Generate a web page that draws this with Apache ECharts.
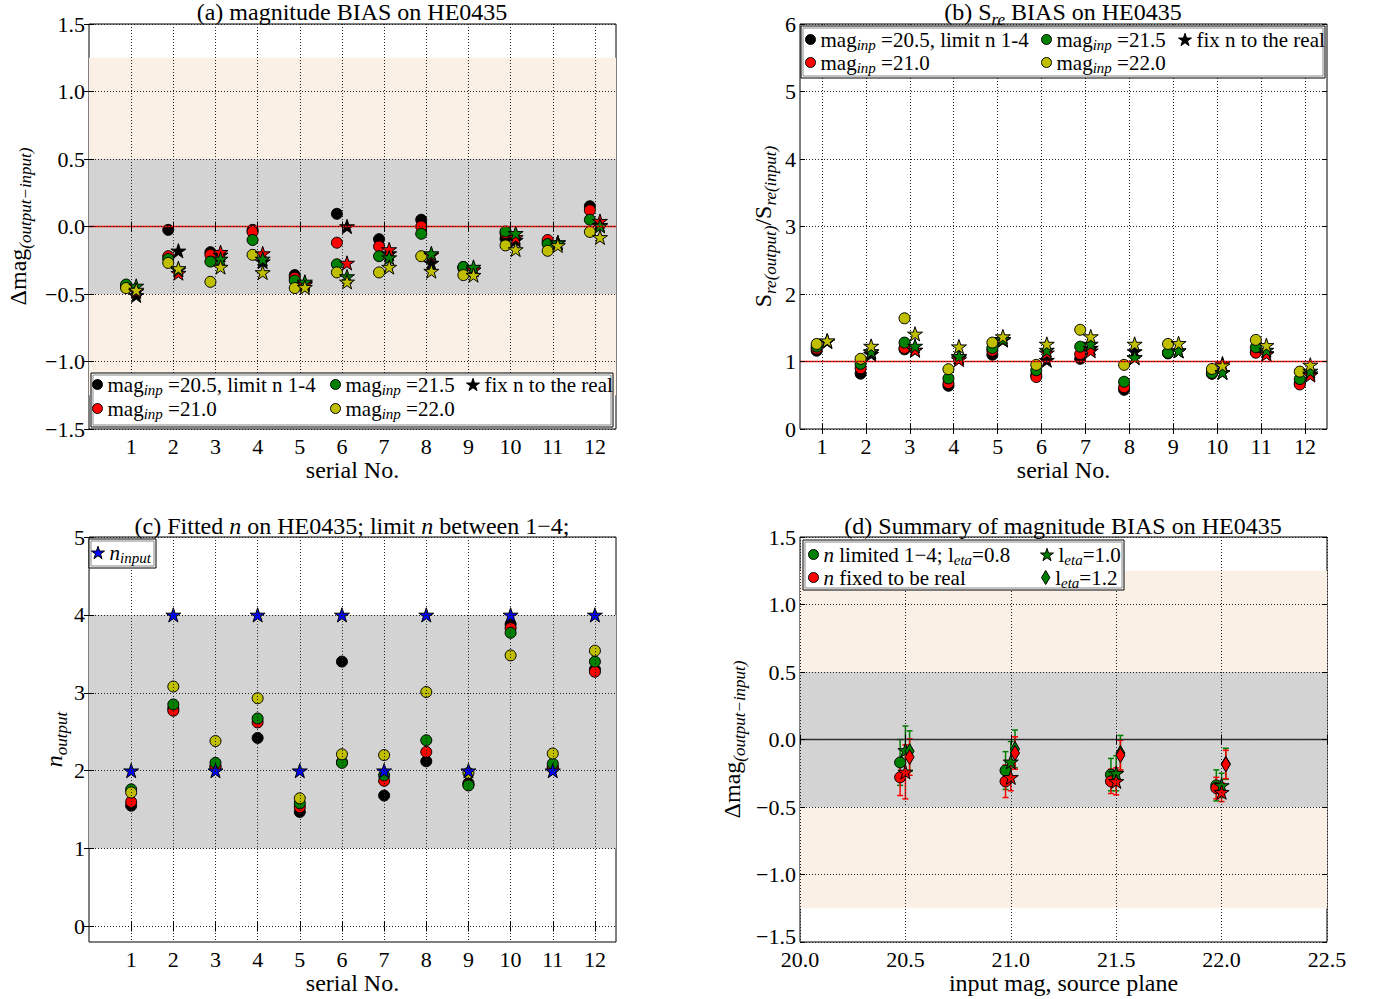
<!DOCTYPE html>
<html><head><meta charset="utf-8">
<script src="https://cdn.jsdelivr.net/npm/echarts@6/dist/echarts.min.js"></script>
<style>html,body{margin:0;padding:0;background:#fff}#c{width:1377px;height:999px}</style>
</head><body><div id="c"></div>
<script>
// ---------------- data ----------------
const serialNo = [1,2,3,4,5,6,7,8,9,10,11,12];
const xTicksA = [1,2,3,4,5,6,7,8,9,10,11,12];
const yTicksC = [0,1,2,3,4,5];

// (a) magnitude bias: circles = n limited 1-4, stars = n fixed to the real value
const aCirc205 = [-0.44,-0.025,-0.19,-0.025,-0.36,0.094,-0.094,0.05,-0.30,-0.09,-0.12,0.15];
const aCirc210 = [-0.45,-0.22,-0.21,-0.04,-0.38,-0.12,-0.148,0.0,-0.31,-0.05,-0.10,0.12];
const aCirc215 = [-0.43,-0.24,-0.26,-0.10,-0.40,-0.28,-0.22,-0.054,-0.30,-0.037,-0.13,0.05];
const aCirc220 = [-0.456,-0.27,-0.41,-0.21,-0.456,-0.34,-0.34,-0.22,-0.36,-0.14,-0.18,-0.04];
const aStar205 = [-0.51,-0.18,-0.21,-0.26,-0.42,0.0,-0.20,-0.27,-0.32,-0.10,-0.12,0.01];
const aStar210 = [-0.48,-0.345,-0.19,-0.20,-0.43,-0.27,-0.17,-0.21,-0.32,-0.08,-0.12,0.04];
const aStar215 = [-0.44,-0.32,-0.24,-0.24,-0.41,-0.37,-0.23,-0.20,-0.30,-0.05,-0.12,0.005];
const aStar220 = [-0.47,-0.31,-0.30,-0.34,-0.45,-0.41,-0.30,-0.33,-0.36,-0.17,-0.14,-0.08];

// (b) S_re ratio
const bCirc205 = [1.16,0.82,1.18,0.64,1.10,0.80,1.04,0.58,1.12,0.82,1.14,0.68];
const bCirc210 = [1.19,0.90,1.20,0.68,1.16,0.77,1.11,0.62,1.13,0.82,1.13,0.66];
const bCirc215 = [1.22,0.965,1.28,0.75,1.20,0.87,1.22,0.70,1.13,0.83,1.21,0.74];
const bCirc220 = [1.26,1.04,1.64,0.886,1.28,0.95,1.47,0.95,1.26,0.89,1.32,0.85];
const bStar205 = [1.30,1.11,1.17,1.06,1.32,1.02,1.20,1.15,1.16,0.84,1.12,0.82];
const bStar210 = [1.30,1.14,1.17,1.03,1.32,1.13,1.16,1.06,1.16,0.97,1.11,0.80];
const bStar215 = [1.30,1.15,1.23,1.08,1.33,1.17,1.26,1.06,1.16,0.84,1.17,0.86];
const bStar220 = [1.31,1.23,1.41,1.22,1.37,1.26,1.37,1.26,1.27,0.94,1.24,0.95];

// (c) fitted n
const cN205 = [1.55,2.80,2.05,2.42,1.47,3.40,1.68,2.12,1.84,3.88,2.05,3.30];
const cN210 = [1.60,2.77,2.05,2.62,1.53,2.11,1.87,2.24,1.82,3.83,2.03,3.27];
const cN215 = [1.76,2.85,2.10,2.67,1.58,2.10,1.94,2.39,1.81,3.77,2.09,3.40];
const cN220 = [1.72,3.08,2.38,2.93,1.645,2.21,2.20,3.01,1.97,3.48,2.22,3.54];
const cNinput = [2,4,2,4,2,4,2,4,2,4,2,4];

// (d) summary
const dMag = [20.5, 21.0, 21.5, 22.0];
const dLim08 = [-0.17,-0.23,-0.26,-0.34],  dLim08Err = [0.17,0.14,0.12,0.115];
const dFix08 = [-0.28,-0.31,-0.31,-0.36],  dFix08Err = [0.135,0.12,0.09,0.08];
const dLim10 = [-0.08,-0.165,-0.25,-0.34], dLim10Err = [0.18,0.15,0.13,0.09];
const dFix10 = [-0.24,-0.28,-0.31,-0.39],  dFix10Err = [0.20,0.10,0.10,0.07];
const dLim12 = [-0.086,-0.07,-0.10,-0.18], dLim12Err = [0.15,0.14,0.13,0.115];
const dFix12 = [-0.13,-0.10,-0.116,-0.185],dFix12Err = [0.135,0.12,0.11,0.105];

// ---------------- styles ----------------
const FONT = 'Liberation Serif';
const BLACK='#000000', RED='#FF0000', GREEN='#008000', YELLOW='#BFBF00', BLUE='#0000FF';
const LINEN='#FAF0E6', LGRAY='#D3D3D3';
const STAR = 'path://M100,0L122.45,69.1L195.1,69.1L136.3,111.8L158.8,180.9L100,138.2L41.2,180.9L63.7,111.8L4.9,69.1L77.55,69.1Z';
const DIAMOND = 'path://M60,0L120,100L60,200L0,100Z';
const minus = s => String(s).replace('-', '\u2212');

const rich = {
  r: {fontFamily: FONT, fontSize: 24, color: '#000', lineHeight: 26, verticalAlign: 'top'},
  i: {fontFamily: FONT, fontSize: 24, fontStyle: 'italic', color: '#000', lineHeight: 26, verticalAlign: 'top'},
  s: {fontFamily: FONT, fontSize: 17, fontStyle: 'italic', color: '#000', lineHeight: 18, verticalAlign: 'top', padding: [11,0,0,0]}
};
const richL = {
  r: {fontFamily: FONT, fontSize: 21, color: '#000', lineHeight: 21, verticalAlign: 'top'},
  i: {fontFamily: FONT, fontSize: 21, fontStyle: 'italic', color: '#000', lineHeight: 21, verticalAlign: 'top'},
  s: {fontFamily: FONT, fontSize: 15, fontStyle: 'italic', color: '#000', lineHeight: 14, verticalAlign: 'top', padding: [8,0,0,0]}
};

const grids = [
  {left: 89,  top: 24,  width: 527, height: 405},
  {left: 800, top: 24,  width: 527, height: 405},
  {left: 89,  top: 537, width: 527, height: 405},
  {left: 800, top: 537, width: 527, height: 405}
].map(g => Object.assign({show: true, borderColor: '#000', borderWidth: 1, backgroundColor: 'transparent', containLabel: false}, g));

const labelStyle = {fontFamily: FONT, fontSize: 22, color: '#000'};
const splitStyle = {show: true, lineStyle: {color: '#222', width: 1, type: [1, 2]}};
const fmtMag = v => minus(v.toFixed(1));
// panel (d): lowest y label nudged up so it does not sit on top of "20.0"
const fmtMagD = v => v === -1.5 ? '{lo|' + minus(v.toFixed(1)) + '}' : minus(v.toFixed(1));

const xcfg = [
  {min: 0, max: 12.5, custom: xTicksA, fmt: v => String(v), name: '{r|serial No.}'},
  {min: 0.5, max: 12.5, custom: xTicksA, fmt: v => String(v), name: '{r|serial No.}'},
  {min: 0, max: 12.5, custom: xTicksA, fmt: v => String(v), name: '{r|serial No.}'},
  {min: 20, max: 22.5, interval: 0.5, fmt: v => v.toFixed(1), name: '{r|input mag, source plane}'}
];
const ycfg = [
  {min: -1.5, max: 1.5, interval: 0.5, fmt: fmtMag, name: '{r|\u0394mag}{s|(output\u2212input)}', gap: 57},
  {min: 0, max: 6, interval: 1, fmt: v => String(v), name: '{r|S}{s|re(output)}{r|/S}{s|re(input)}', gap: 23},
  {min: -0.2, max: 5, custom: yTicksC, fmt: v => String(v), name: '{i|n}{s|output}', gap: 18},
  {min: -1.5, max: 1.5, interval: 0.5, fmt: fmtMagD, name: '{r|\u0394mag}{s|(output\u2212input)}', gap: 54}
];

function makeAxis(kind, cfg, gi, mirror) {
  const ax = {
    type: 'value', gridIndex: gi, min: cfg.min, max: cfg.max,
    position: kind === 'x' ? (mirror ? 'top' : 'bottom') : (mirror ? 'right' : 'left'),
    axisLine: {show: false},
    axisTick: {show: true, inside: true, length: 5, lineStyle: {color: '#000', width: 1}},
    axisLabel: mirror ? {show: false} : Object.assign({show: true, margin: kind === 'x' ? 6 : 4, formatter: cfg.fmt,
      rich: {lo: {fontFamily: FONT, fontSize: 22, color: '#000', padding: [0, 0, 12, 0]}}}, labelStyle),
    splitLine: mirror ? {show: false} : splitStyle,
    z: 10
  };
  if (cfg.interval) ax.interval = cfg.interval;
  if (cfg.custom) {
    ax.axisTick.customValues = cfg.custom;
    if (!mirror) ax.axisLabel.customValues = cfg.custom;
  }
  if (!mirror) {
    ax.name = cfg.name;
    ax.nameLocation = 'middle';
    ax.nameTextStyle = {rich: rich};
    if (kind === 'x') { ax.nameGap = 25; }
    else { ax.nameGap = cfg.gap; ax.nameRotate = 90; }
  }
  return ax;
}
const xAxis = [], yAxis = [];
for (let g = 0; g < 4; g++) { xAxis.push(makeAxis('x', xcfg[g], g, false)); yAxis.push(makeAxis('y', ycfg[g], g, false)); }
for (let g = 0; g < 4; g++) { xAxis.push(makeAxis('x', xcfg[g], g, true));  yAxis.push(makeAxis('y', ycfg[g], g, true)); }

// ---------------- series ----------------
function pts(name, gi, xs, ys, dx, color, symbol, size, z) {
  return {
    type: 'scatter', name: name, xAxisIndex: gi, yAxisIndex: gi,
    data: xs.map((x, i) => [x + dx, ys[i]]),
    symbol: symbol, symbolSize: size, symbolKeepAspect: true,
    itemStyle: {color: color, borderColor: '#000', borderWidth: 1, opacity: 1},
    emphasis: {disabled: true}, silent: true, z: z || 4
  };
}
function bands(gi, areas, lineVal, lineColor) {
  const s = {
    type: 'scatter', name: 'bands' + gi, xAxisIndex: gi, yAxisIndex: gi, data: [], z: 1, silent: true,
    markArea: {silent: true, data: areas.map(a => [{yAxis: a[0], itemStyle: {color: a[2], opacity: 1}}, {yAxis: a[1]}])}
  };
  if (lineVal !== null) {
    s.markLine = {silent: true, symbol: 'none', label: {show: false},
      lineStyle: {color: lineColor, width: 1.3, type: 'solid', opacity: 1}, data: [{yAxis: lineVal}]};
  }
  return s;
}
function errBars(gi, xs, ys, es, dx, color) {
  return {
    type: 'custom', xAxisIndex: gi, yAxisIndex: gi, silent: true, z: 3,
    data: xs.map((x, i) => [x + dx, ys[i], es[i]]),
    encode: {x: 0, y: 1},
    renderItem: function (params, api) {
      const x = api.value(0), y = api.value(1), e = api.value(2);
      const p1 = api.coord([x, y + e]), p2 = api.coord([x, y - e]);
      const cw = 3, st = {stroke: color, lineWidth: 1.5};
      return {type: 'group', children: [
        {type: 'line', shape: {x1: p1[0], y1: p1[1], x2: p2[0], y2: p2[1]}, style: st},
        {type: 'line', shape: {x1: p1[0] - cw, y1: p1[1], x2: p1[0] + cw, y2: p1[1]}, style: st},
        {type: 'line', shape: {x1: p2[0] - cw, y1: p2[1], x2: p2[0] + cw, y2: p2[1]}, style: st}
      ]};
    }
  };
}

const CS = 11, SS = 15;
const series = [
  bands(0, [[-1.25, 1.25, LINEN], [-0.5, 0.5, LGRAY]], 0, RED),
  bands(1, [], 1, RED),
  bands(2, [[1, 4, LGRAY]], null, null),
  bands(3, [[-1.25, 1.25, LINEN], [-0.5, 0.5, LGRAY]], 0, '#333'),

  pts('a205', 0, serialNo, aCirc205, -0.12, BLACK, 'circle', CS),
  pts('a210', 0, serialNo, aCirc210, -0.12, RED, 'circle', CS),
  pts('a215', 0, serialNo, aCirc215, -0.12, GREEN, 'circle', CS),
  pts('a220', 0, serialNo, aCirc220, -0.12, YELLOW, 'circle', CS),
  pts('afix', 0, serialNo, aStar205, 0.12, BLACK, STAR, SS),
  pts('as210', 0, serialNo, aStar210, 0.12, RED, STAR, SS),
  pts('as215', 0, serialNo, aStar215, 0.12, GREEN, STAR, SS),
  pts('as220', 0, serialNo, aStar220, 0.12, YELLOW, STAR, SS),

  pts('b205', 1, serialNo, bCirc205, -0.12, BLACK, 'circle', CS),
  pts('b210', 1, serialNo, bCirc210, -0.12, RED, 'circle', CS),
  pts('b215', 1, serialNo, bCirc215, -0.12, GREEN, 'circle', CS),
  pts('b220', 1, serialNo, bCirc220, -0.12, YELLOW, 'circle', CS),
  pts('bfix', 1, serialNo, bStar205, 0.12, BLACK, STAR, SS),
  pts('bs210', 1, serialNo, bStar210, 0.12, RED, STAR, SS),
  pts('bs215', 1, serialNo, bStar215, 0.12, GREEN, STAR, SS),
  pts('bs220', 1, serialNo, bStar220, 0.12, YELLOW, STAR, SS),

  pts('c205', 2, serialNo, cN205, 0, BLACK, 'circle', CS),
  pts('c210', 2, serialNo, cN210, 0, RED, 'circle', CS),
  pts('c215', 2, serialNo, cN215, 0, GREEN, 'circle', CS),
  pts('c220', 2, serialNo, cN220, 0, YELLOW, 'circle', CS),
  pts('cin', 2, serialNo, cNinput, 0, BLUE, STAR, SS, 5),

  errBars(3, dMag, dLim08, dLim08Err, -0.025, GREEN),
  errBars(3, dMag, dFix08, dFix08Err, -0.025, RED),
  errBars(3, dMag, dLim10, dLim10Err, 0, GREEN),
  errBars(3, dMag, dFix10, dFix10Err, 0, RED),
  errBars(3, dMag, dLim12, dLim12Err, 0.02, GREEN),
  errBars(3, dMag, dFix12, dFix12Err, 0.02, RED),
  pts('dlim08', 3, dMag, dLim08, -0.025, GREEN, 'circle', CS),
  pts('dfix08', 3, dMag, dFix08, -0.025, RED, 'circle', CS),
  pts('dlim10', 3, dMag, dLim10, 0, GREEN, STAR, SS),
  pts('dfix10', 3, dMag, dFix10, 0, RED, STAR, SS),
  pts('dlim12', 3, dMag, dLim12, 0.02, GREEN, DIAMOND, 15),
  pts('dfix12', 3, dMag, dFix12, 0.02, RED, DIAMOND, 15)
];

// ---------------- legends ----------------
const legendText = {
  a205: '{r|mag}{s|inp}{r| =20.5, limit n 1-4}', a210: '{r|mag}{s|inp}{r| =21.0}',
  a215: '{r|mag}{s|inp}{r| =21.5}', a220: '{r|mag}{s|inp}{r| =22.0}', afix: '{r|fix n to the real}',
  b205: '{r|mag}{s|inp}{r| =20.5, limit n 1-4}', b210: '{r|mag}{s|inp}{r| =21.0}',
  b215: '{r|mag}{s|inp}{r| =21.5}', b220: '{r|mag}{s|inp}{r| =22.0}', bfix: '{r|fix n to the real}',
  cin: '{i|n}{s|input}',
  dlim08: '{i|n}{r| limited 1\u22124; l}{s|eta}{r|=0.8}', dfix08: '{i|n}{r| fixed to be real}',
  dlim10: '{r|l}{s|eta}{r|=1.0}', dlim12: '{r|l}{s|eta}{r|=1.2}'
};
function leg(name, icon, color, left, top, w, h) {
  return {
    data: [{name: name, icon: icon, itemStyle: {color: color, borderColor: '#000', borderWidth: 1}}],
    left: left, top: top, padding: 0, itemGap: 0,
    itemWidth: w || 10, itemHeight: h || w || 10, selectedMode: false, z: 40,
    formatter: n => legendText[n], textStyle: {rich: richL}
  };
}
const legend = [
  leg('a205', 'circle', BLACK, 92, 374), leg('a215', 'circle', GREEN, 330, 374), leg('afix', STAR, BLACK, 466, 374, 13),
  leg('a210', 'circle', RED, 92, 398), leg('a220', 'circle', YELLOW, 330, 398),
  leg('b205', 'circle', BLACK, 805, 29), leg('b215', 'circle', GREEN, 1041, 29), leg('bfix', STAR, BLACK, 1178, 29, 13),
  leg('b210', 'circle', RED, 805, 52), leg('b220', 'circle', YELLOW, 1041, 52),
  leg('cin', STAR, BLUE, 91, 542, 13),
  leg('dlim08', 'circle', GREEN, 808, 544), leg('dlim10', STAR, GREEN, 1040, 544, 13),
  leg('dfix08', 'circle', RED, 808, 567), leg('dlim12', DIAMOND, GREEN, 1041, 567, 9, 14)
];

// ---------------- boxes & titles ----------------
function box(x, y, w, h) {
  return [
    {type: 'rect', shape: {x: x, y: y, width: w, height: h}, style: {fill: '#fff', stroke: '#000', lineWidth: 1}, z: 20, silent: true},
    {type: 'rect', shape: {x: x + 2, y: y + 2, width: w - 4, height: h - 4}, style: {fill: 'none', stroke: '#888', lineWidth: 1}, z: 21, silent: true}
  ];
}
function title(x, y, txt) {
  return {type: 'text', x: x, y: y, z: 30, silent: true,
    style: {text: txt, rich: rich, align: 'center', verticalAlign: 'middle'}};
}
const graphic = [].concat(
  box(91, 373, 522, 54), box(801, 26, 524, 52), box(89, 539, 67, 29), box(803, 540, 321, 50),
  [
    title(352, 13, '{r|(a) magnitude BIAS on HE0435}'),
    title(1063, 13, '{r|(b) S}{s|re}{r| BIAS on HE0435}'),
    title(352, 527, '{r|(c) Fitted }{i|n}{r| on HE0435; limit }{i|n}{r| between 1\u22124;}'),
    title(1063, 527, '{r|(d) Summary of magnitude BIAS on HE0435}')
  ]
);

const chart = echarts.init(document.getElementById('c'), null, {renderer: 'svg'});
chart.setOption({
  animation: false,
  backgroundColor: '#fff',
  textStyle: {fontFamily: FONT},
  grid: grids, xAxis: xAxis, yAxis: yAxis,
  legend: legend, series: series, graphic: graphic
});
</script></body></html>
